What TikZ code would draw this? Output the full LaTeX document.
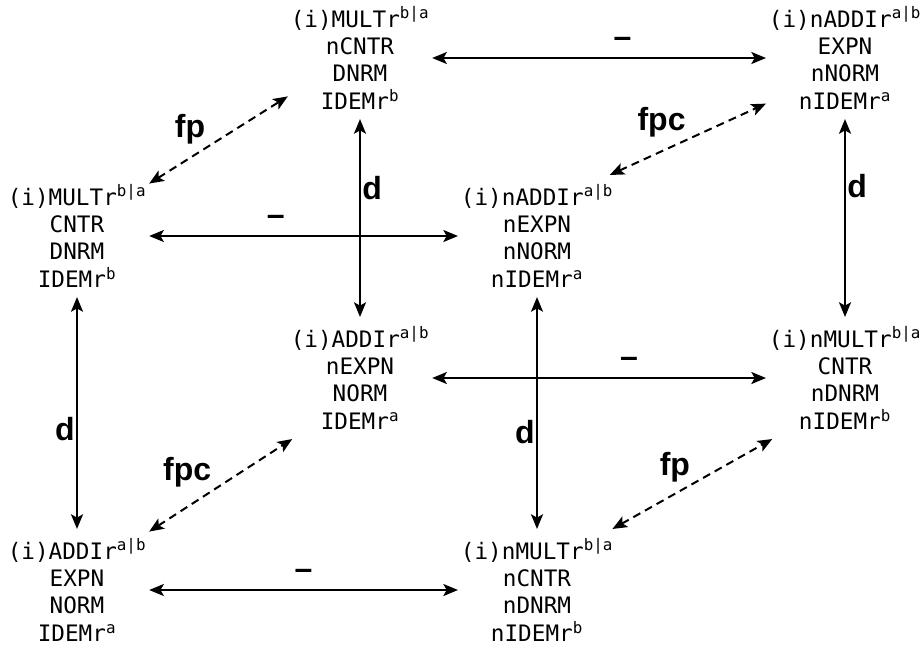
\documentclass[tikz,border=0pt]{standalone}
\usepackage{fontspec}
\setmainfont{Liberation Sans}
\setmonofont{DejaVu Sans Mono}
\usetikzlibrary{arrows.meta}

\newcommand{\upr}[1]{\textsuperscript{#1}}

\tikzset{
  prop/.style={font=\ttfamily\fontsize{17}{20.6}\selectfont, align=center,
    inner xsep=2pt, inner ysep=7pt},
  rel/.style={<->, >={Stealth[length=11pt,width=9pt,inset=2.5pt]}, line width=1.5pt},
  weak/.style={rel, dash pattern=on 6pt off 4pt},
  lbl/.style={font=\bfseries\fontsize{24}{28}\selectfont, inner sep=1pt},
}

\begin{document}
\begin{tikzpicture}[x=0.75pt,y=-0.75pt]
\useasboundingbox (0,0) rectangle (920,651);
% back face
\node[prop] (mulA)  at (360,58)  {(i)MULTr\upr{b|a}\\nCNTR\\DNRM\\IDEMr\upr{b}};
\node[prop] (naddA) at (845,58)  {(i)nADDIr\upr{a|b}\\EXPN\\nNORM\\nIDEMr\upr{a}};
\node[prop] (addA)  at (360,378) {(i)ADDIr\upr{a|b}\\nEXPN\\NORM\\IDEMr\upr{a}};
\node[prop] (nmulA) at (845,378) {(i)nMULTr\upr{b|a}\\CNTR\\nDNRM\\nIDEMr\upr{b}};
% front face
\node[prop] (mulB)  at (77,236)  {(i)MULTr\upr{b|a}\\CNTR\\DNRM\\IDEMr\upr{b}};
\node[prop] (naddB) at (537,236) {(i)nADDIr\upr{a|b}\\nEXPN\\nNORM\\nIDEMr\upr{a}};
\node[prop] (addB)  at (77,590)  {(i)ADDIr\upr{a|b}\\EXPN\\NORM\\IDEMr\upr{a}};
\node[prop] (nmulB) at (537,590) {(i)nMULTr\upr{b|a}\\nCNTR\\nDNRM\\nIDEMr\upr{b}};

\draw[rel] (mulA) -- (naddA) node[lbl, above=6pt, pos=0.57] {–};
\draw[rel] (addA) -- (nmulA) node[lbl, above=6pt, pos=0.59] {–};
\draw[rel] (mulB) -- (naddB) node[lbl, above=6pt, pos=0.41] {–};
\draw[rel] (addB) -- (nmulB) node[lbl, above=6pt, pos=0.5] {–};

\draw[rel] (mulA) -- (addA) node[lbl, right, pos=0.35] {d};
\draw[rel] (naddA) -- (nmulA) node[lbl, right, pos=0.34] {d};
\draw[rel] (mulB) -- (addB) node[lbl, left, pos=0.57] {d};
\draw[rel] (naddB) -- (nmulB) node[lbl, left, pos=0.58] {d};

\draw[weak] (mulB.36) -- (mulA.208) node[lbl, above left, pos=0.42] {fp};
\draw[weak] (naddB.40) -- (naddA.210) node[lbl, above left, pos=0.5] {fpc};
\draw[weak] (addB.39) -- (addA.222) node[lbl, above left, pos=0.45] {fpc};
\draw[weak] (nmulB.39) -- (nmulA.220) node[lbl, above left, pos=0.5] {fp};
\end{tikzpicture}
\end{document}
